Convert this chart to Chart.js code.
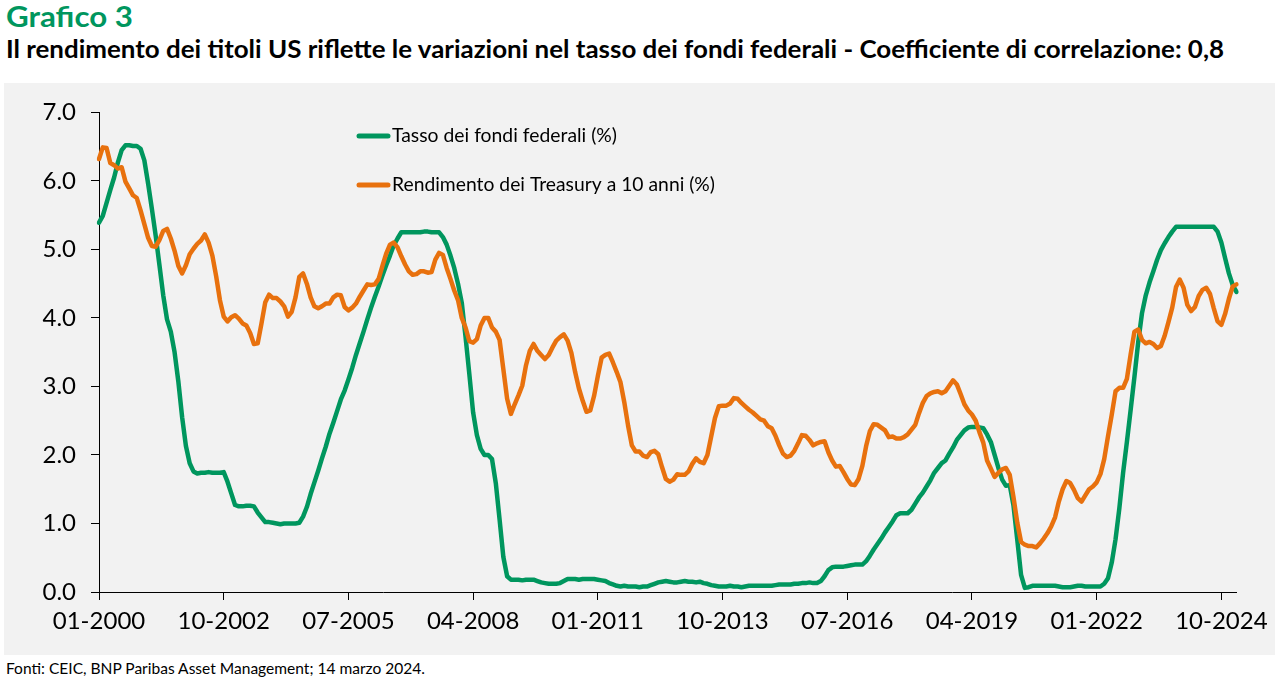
<!DOCTYPE html>
<html>
<head>
<meta charset="utf-8">
<script src="https://cdn.jsdelivr.net/npm/chart.js@4.4.0/dist/chart.umd.min.js"></script>
<style>
html, body { margin: 0; padding: 0; background: #fff; }
body { width: 1279px; height: 684px; position: relative; overflow: hidden; font-family: Lato, "Open Sans", sans-serif; }
.fit { position: absolute; white-space: nowrap; transform-origin: 0 0; line-height: 1; }
#kicker { left: 6px; top: 2px; font-size: 28px; font-weight: 700; color: #00965e; }
#title { left: 6px; top: 36px; font-size: 25px; font-weight: 700; color: #000; }
#foot { left: 6px; top: 660px; font-size: 16px; color: #000; }
#panel { position: absolute; left: 4px; top: 83px; width: 1271px; height: 572px; background: #f2f2f2; }
</style>
</head>
<body>
<div id="kicker" class="fit" data-w="127">Grafico 3</div>
<div id="title" class="fit" data-w="1218">Il rendimento dei titoli US riflette le variazioni nel tasso dei fondi federali - Coefficiente di correlazione: 0,8</div>
<div id="panel"><canvas id="chart" width="1271" height="572"></canvas></div>
<div id="foot" class="fit" data-w="419">Fonti: CEIC, BNP Paribas Asset Management; 14 marzo 2024.</div>
<script>
// monthly, 01-2000 .. 02-2025
const labels = [];
for (let y = 2000; y <= 2025; y++) {
    for (let m = 1; m <= 12; m++) {
        if (y === 2025 && m > 2) break;
        labels.push(String(m).padStart(2, "0") + "-" + y);
    }
}

// Tasso dei fondi federali (%)
const fedFunds = [
    5.39, 5.49, 5.68, 5.87, 6.05, 6.27, 6.45, 6.52, 6.52, 6.51, 6.51, 6.47,
    6.30, 5.96, 5.59, 5.20, 4.77, 4.33, 3.98, 3.80, 3.50, 3.07, 2.55, 2.13,
    1.88, 1.76, 1.73, 1.74, 1.74, 1.75, 1.74, 1.74, 1.74, 1.75, 1.61, 1.44,
    1.27, 1.25, 1.25, 1.26, 1.26, 1.25, 1.16, 1.09, 1.02, 1.02, 1.01, 1.00,
    0.99, 1.00, 1.00, 1.00, 1.00, 1.01, 1.10, 1.24, 1.43, 1.60, 1.77, 1.95,
    2.12, 2.31, 2.47, 2.64, 2.81, 2.94, 3.10, 3.27, 3.46, 3.63, 3.80, 3.98,
    4.15, 4.31, 4.46, 4.62, 4.77, 4.91, 5.06, 5.16, 5.25, 5.25, 5.25, 5.25,
    5.25, 5.25, 5.26, 5.26, 5.25, 5.25, 5.25, 5.18, 5.07, 4.91, 4.73, 4.50,
    4.22, 3.72, 3.18, 2.62, 2.29, 2.09, 2.00, 2.00, 1.94, 1.59, 1.06, 0.51,
    0.23, 0.18, 0.18, 0.18, 0.17, 0.18, 0.18, 0.18, 0.16, 0.14, 0.13, 0.12,
    0.12, 0.12, 0.13, 0.16, 0.19, 0.19, 0.19, 0.18, 0.19, 0.19, 0.19, 0.19,
    0.18, 0.17, 0.16, 0.13, 0.11, 0.09, 0.08, 0.09, 0.08, 0.08, 0.08, 0.07,
    0.08, 0.08, 0.10, 0.12, 0.14, 0.15, 0.16, 0.15, 0.14, 0.14, 0.15, 0.16,
    0.15, 0.15, 0.14, 0.15, 0.13, 0.12, 0.10, 0.09, 0.08, 0.08, 0.08, 0.09,
    0.08, 0.08, 0.07, 0.08, 0.09, 0.09, 0.09, 0.09, 0.09, 0.09, 0.09, 0.10,
    0.11, 0.11, 0.11, 0.11, 0.12, 0.12, 0.13, 0.13, 0.14, 0.13, 0.13, 0.16,
    0.23, 0.32, 0.36, 0.37, 0.37, 0.37, 0.38, 0.39, 0.40, 0.40, 0.40, 0.45,
    0.53, 0.62, 0.70, 0.78, 0.87, 0.95, 1.03, 1.12, 1.15, 1.15, 1.15, 1.20,
    1.29, 1.38, 1.45, 1.54, 1.63, 1.74, 1.81, 1.88, 1.92, 2.02, 2.11, 2.22,
    2.29, 2.36, 2.40, 2.41, 2.41, 2.40, 2.39, 2.30, 2.19, 2.00, 1.81, 1.64,
    1.55, 1.56, 1.26, 0.76, 0.25, 0.06, 0.07, 0.09, 0.09, 0.09, 0.09, 0.09,
    0.09, 0.09, 0.08, 0.07, 0.07, 0.07, 0.08, 0.09, 0.09, 0.08, 0.08, 0.08,
    0.08, 0.08, 0.12, 0.20, 0.43, 0.77, 1.22, 1.74, 2.19, 2.66, 3.14, 3.65,
    4.07, 4.33, 4.52, 4.68, 4.85, 4.99, 5.09, 5.18, 5.26, 5.33, 5.33, 5.33,
    5.33, 5.33, 5.33, 5.33, 5.33, 5.33, 5.33, 5.33, 5.26, 5.10, 4.87, 4.65,
    4.48, 4.38
];

// Rendimento dei Treasury a 10 anni (%)
const treasury10y = [
    6.32, 6.49, 6.48, 6.26, 6.23, 6.18, 6.20, 5.99, 5.89, 5.79, 5.75, 5.57,
    5.37, 5.17, 5.05, 5.04, 5.14, 5.27, 5.30, 5.16, 4.98, 4.76, 4.65, 4.77,
    4.93, 5.01, 5.08, 5.13, 5.22, 5.10, 4.91, 4.61, 4.26, 4.02, 3.95, 4.01,
    4.04, 3.99, 3.92, 3.89, 3.78, 3.62, 3.63, 3.92, 4.23, 4.34, 4.29, 4.29,
    4.24, 4.17, 4.02, 4.09, 4.30, 4.60, 4.65, 4.50, 4.30, 4.17, 4.14, 4.17,
    4.21, 4.21, 4.30, 4.34, 4.33, 4.16, 4.11, 4.15, 4.21, 4.31, 4.40, 4.49,
    4.48, 4.49, 4.57, 4.76, 4.94, 5.07, 5.10, 5.03, 4.90, 4.78, 4.68, 4.63,
    4.64, 4.68, 4.68, 4.66, 4.67, 4.85, 4.95, 4.92, 4.73, 4.57, 4.40, 4.26,
    4.00, 3.86, 3.66, 3.64, 3.69, 3.89, 4.00, 4.00, 3.86, 3.80, 3.68, 3.25,
    2.82, 2.60, 2.74, 2.87, 3.01, 3.31, 3.52, 3.62, 3.52, 3.46, 3.40, 3.46,
    3.57, 3.67, 3.72, 3.76, 3.67, 3.49, 3.21, 2.97, 2.79, 2.63, 2.65, 2.86,
    3.15, 3.42, 3.46, 3.48, 3.35, 3.21, 3.06, 2.77, 2.43, 2.14, 2.05, 2.05,
    1.99, 1.97, 2.04, 2.06, 2.01, 1.82, 1.65, 1.61, 1.64, 1.72, 1.71, 1.71,
    1.76, 1.87, 1.95, 1.90, 1.88, 2.00, 2.27, 2.54, 2.71, 2.72, 2.72, 2.75,
    2.83, 2.82, 2.76, 2.71, 2.66, 2.62, 2.57, 2.52, 2.50, 2.42, 2.39, 2.28,
    2.14, 2.02, 1.97, 1.99, 2.06, 2.17, 2.29, 2.28, 2.22, 2.14, 2.17, 2.19,
    2.20, 2.04, 1.92, 1.83, 1.84, 1.75, 1.65, 1.57, 1.56, 1.65, 1.84, 2.13,
    2.35, 2.45, 2.44, 2.40, 2.36, 2.26, 2.27, 2.24, 2.24, 2.26, 2.30, 2.37,
    2.44, 2.61, 2.76, 2.86, 2.90, 2.92, 2.93, 2.90, 2.93, 3.01, 3.09, 3.03,
    2.89, 2.74, 2.65, 2.59, 2.50, 2.33, 2.18, 1.92, 1.80, 1.68, 1.74, 1.79,
    1.81, 1.71, 1.38, 1.01, 0.73, 0.69, 0.67, 0.67, 0.65, 0.71, 0.78, 0.86,
    0.96, 1.09, 1.32, 1.50, 1.62, 1.59, 1.49, 1.37, 1.32, 1.41, 1.50, 1.54,
    1.60, 1.72, 1.94, 2.27, 2.59, 2.93, 2.98, 2.98, 3.11, 3.47, 3.80, 3.83,
    3.68, 3.63, 3.65, 3.62, 3.56, 3.59, 3.74, 3.94, 4.15, 4.45, 4.56, 4.44,
    4.19, 4.10, 4.16, 4.32, 4.41, 4.44, 4.35, 4.14, 3.95, 3.90, 4.06, 4.28,
    4.46, 4.49
];

const GREEN = "#00965e";
const ORANGE = "#e8710e";
const FONT = "Lato, 'Open Sans', sans-serif";

// squeeze header/footer text to the reference widths
document.querySelectorAll(".fit").forEach(el => {
    const target = +el.dataset.w;
    const w = el.getBoundingClientRect().width;
    if (w > 0) el.style.transform = "scaleX(" + (target / w) + ")";
});

// legend drawn inside the plot, two rows
const inlineLegend = {
    id: "inlineLegend",
    afterDraw(chart) {
        const c = chart.ctx;
        const rows = [{ y: 53, w: 225 }, { y: 102, w: 323 }];
        chart.data.datasets.forEach((ds, i) => {
            const r = rows[i];
            c.save();
            c.strokeStyle = ds.borderColor;
            c.lineWidth = 5;
            c.lineCap = "round";
            c.beginPath();
            c.moveTo(355, r.y);
            c.lineTo(384, r.y);
            c.stroke();
            c.font = "19px " + FONT;
            c.fillStyle = "#000";
            c.textBaseline = "middle";
            const tw = c.measureText(ds.label).width;
            c.translate(388, r.y);
            c.scale(r.w / tw, 1);
            c.fillText(ds.label, 0, 0);
            c.restore();
        });
    }
};

const ctx = document.getElementById("chart").getContext("2d");
const chart = new Chart(ctx, {
    type: "line",
    data: {
        labels: labels,
        datasets: [{
            label: "Tasso dei fondi federali (%)",
            data: fedFunds,
            borderColor: GREEN,
            borderWidth: 4.5,
            pointRadius: 0,
            tension: 0,
            borderJoinStyle: "round",
            borderCapStyle: "round",
            order: 1
        }, {
            label: "Rendimento dei Treasury a 10 anni (%)",
            data: treasury10y,
            borderColor: ORANGE,
            borderWidth: 4.5,
            pointRadius: 0,
            tension: 0,
            borderJoinStyle: "round",
            borderCapStyle: "round",
            order: 0
        }]
    },
    options: {
        responsive: false,
        animation: false,
        layout: { padding: { left: 0, right: 32, top: 27, bottom: 0 } },
        plugins: { legend: { display: false }, tooltip: { enabled: false } },
        scales: {
            x: {
                ticks: {
                    autoSkip: false,
                    maxRotation: 0,
                    minRotation: 0,
                    color: "#000",
                    font: { family: FONT, size: 24 },
                    padding: 7,
                    callback: function (v, i) { return i % 33 === 0 ? this.getLabelForValue(v) : null; }
                },
                grid: { display: true, drawOnChartArea: false, drawTicks: true, tickLength: 8, color: "#000", lineWidth: 1 },
                border: { display: true, color: "#000", width: 1 },
                afterFit(s) { s.height = 63; }
            },
            y: {
                min: 0,
                max: 7,
                ticks: {
                    stepSize: 1,
                    color: "#000",
                    font: { family: FONT, size: 24 },
                    padding: 15,
                    callback: v => v.toFixed(1)
                },
                grid: { display: true, drawOnChartArea: false, drawTicks: true, tickLength: 8, color: "#000", lineWidth: 1 },
                border: { display: true, color: "#000", width: 1 },
                afterFit(s) { s.width = 95; }
            }
        }
    },
    plugins: [inlineLegend]
});
</script>
</body>
</html>
